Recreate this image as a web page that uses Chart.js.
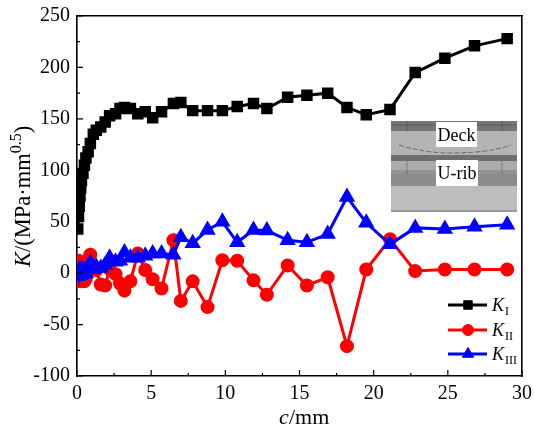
<!DOCTYPE html>
<html>
<head>
<meta charset="utf-8">
<style>
  html, body { margin: 0; padding: 0; background: #fff; }
  #wrap { width: 534px; height: 432px; }
</style>
<script src="https://cdn.jsdelivr.net/npm/chart.js@4"></script>
</head>
<body>
<div id="wrap"><canvas id="chart" width="534" height="432"></canvas></div>
<script>
// crack length c in mm, shared by the three series
var crackLength = [0.05, 0.1, 0.15, 0.2, 0.25, 0.3, 0.4, 0.5, 0.6, 0.75,
  0.9, 1.1, 1.3, 1.6, 1.9, 2.2, 2.6, 2.9, 3.2, 3.6,
  4.1, 4.6, 5.1, 5.7, 6.5, 7.0, 7.8, 8.8, 9.8, 10.8,
  11.9, 12.8, 14.2, 15.5, 16.9, 18.2, 19.5, 21.1, 22.8, 24.8, 26.8, 29];
var kI = [43, 55, 65, 75, 83, 90, 97, 105, 112, 118,
  126, 135, 139, 142, 147, 153, 155, 160, 161, 160,
  155, 157, 151, 157, 165, 166, 158, 158, 158, 162,
  165, 160, 171, 173, 175, 161, 154, 159, 195, 209, 221, 228];
var kII = [5, 12, -3, 0, -8, 3, 10, -8, -5, 4,
  18, 6, 3, -11, -12, 4, -1, -10, -17, -8,
  19, 3, -6, -15, 32, -27, -8, -33, 12.5, 12,
  -7, -21, 7.5, -12, -4, -71, 3.5, 33, 2, 3.5, 3.5, 3.5];
var kIII = [-3, 0, 3, -2, 1, 4, -1, 3, 0, 5,
  10, 4, 6, 5, 8, 15, 11, 12, 20, 15,
  15, 17, 19, 19, 18, 35, 29, 42, 50, 30,
  42, 41.5, 32, 30, 38, 74, 49, 28, 44, 43, 45, 47];
var seriesSubs = ['I', 'II', 'III'];
var xMajorTicks = [0, 5, 10, 15, 20, 25, 30];
var yMajorTicks = [-100, -50, 0, 50, 100, 150, 200, 250];

var serif = '"Liberation Serif", "Times New Roman", serif';

function points(values) {
  return values.map(function(v, i) { return { x: crackLength[i], y: v }; });
}

// stops the axes pushing the plot in to make room for their end labels
function noPadding(s) {
  s.paddingLeft = 0;
  s.paddingRight = 0;
  s.paddingTop = 0;
  s.paddingBottom = 0;
}

// inward ticks on the left and bottom, short ones between the labels
function drawTicks(ctx, chart) {
  var a = chart.chartArea;
  ctx.strokeStyle = '#000';
  ctx.lineWidth = 1.2;
  ctx.beginPath();
  chart.scales.x.ticks.forEach(function(t) {
    var px = chart.scales.x.getPixelForValue(t.value);
    var len = xMajorTicks.indexOf(t.value) >= 0 ? 6 : 3;
    ctx.moveTo(px, a.bottom);
    ctx.lineTo(px, a.bottom - len);
  });
  chart.scales.y.ticks.forEach(function(t) {
    var py = chart.scales.y.getPixelForValue(t.value);
    var len = yMajorTicks.indexOf(t.value) >= 0 ? 6 : 3;
    ctx.moveTo(a.left, py);
    ctx.lineTo(a.left + len, py);
  });
  ctx.stroke();
}

function drawTitles(ctx, chart) {
  ctx.fillStyle = '#000';
  ctx.textBaseline = 'alphabetic';
  ctx.textAlign = 'left';

  // x title
  ctx.font = 'italic 22px ' + serif;
  ctx.fillText('c', 279, 424);
  ctx.font = '22px ' + serif;
  ctx.fillText('/mm', 289, 424);

  // y title
  ctx.save();
  ctx.translate(30, 267);
  ctx.rotate(-Math.PI / 2);
  ctx.font = 'italic 22.5px ' + serif;
  ctx.fillText('K', 0, 0);
  var w = ctx.measureText('K').width;
  ctx.font = '22.5px ' + serif;
  ctx.fillText('/(MPa·mm', w, 0);
  w += ctx.measureText('/(MPa·mm').width;
  ctx.font = '16px ' + serif;
  ctx.fillText('0.5', w, -9);
  w += ctx.measureText('0.5').width;
  ctx.font = '22.5px ' + serif;
  ctx.fillText(')', w, 0);
  ctx.restore();
}

function drawLegend(ctx, chart) {
  var rows = [305, 330, 354];
  chart.data.datasets.forEach(function(ds, i) {
    var y = rows[i];
    ctx.strokeStyle = ds.borderColor;
    ctx.lineWidth = 3;
    ctx.beginPath();
    ctx.moveTo(448, y);
    ctx.lineTo(487, y);
    ctx.stroke();
    ctx.fillStyle = ds.backgroundColor;
    ctx.lineWidth = 1;
    Chart.helpers.drawPoint(ctx, {
      pointStyle: ds.pointStyle, radius: ds.pointRadius, rotation: 0, borderWidth: 1
    }, 468, y);
    ctx.fillStyle = '#000';
    ctx.textAlign = 'left';
    ctx.textBaseline = 'alphabetic';
    ctx.font = 'italic 18px ' + serif;
    ctx.fillText('K', 492, y + 6);
    ctx.font = '12px ' + serif;
    ctx.fillText(seriesSubs[i], 505, y + 10);
  });
}

// the small FE model picture in the plot
function drawInset(ctx) {
  function band(color, y, h) {
    ctx.fillStyle = color;
    ctx.fillRect(391, y, 126, h);
  }
  band('#b4b4b4', 121, 91);
  band('#757575', 121, 10);
  band('#6e6e6e', 155, 6);
  band('#ababab', 161, 13);
  band('#8c8c8c', 174, 12);
  band('#bdbdbd', 186, 24);
  band('#999999', 210, 2);

  ctx.strokeStyle = 'rgba(70,70,70,0.6)';
  ctx.lineWidth = 0.8;
  ctx.beginPath();
  [125, 171, 173].forEach(function(y) {
    ctx.moveTo(391, y);
    ctx.lineTo(517, y);
  });
  [407, 502].forEach(function(x) {
    ctx.moveTo(x, 121);
    ctx.lineTo(x, 131);
    ctx.moveTo(x, 161);
    ctx.lineTo(x, 174);
  });
  ctx.stroke();

  // crack front
  ctx.strokeStyle = '#555';
  ctx.setLineDash([5, 2]);
  ctx.beginPath();
  ctx.moveTo(399, 145);
  ctx.quadraticCurveTo(425, 153, 450, 153);
  ctx.quadraticCurveTo(490, 153, 511, 145);
  ctx.stroke();
  ctx.setLineDash([]);

  ctx.fillStyle = '#fff';
  ctx.fillRect(436, 122, 41, 25);
  ctx.fillRect(436, 160, 42, 26);
  ctx.fillStyle = '#000';
  ctx.textAlign = 'center';
  ctx.textBaseline = 'alphabetic';
  ctx.font = '18px ' + serif;
  ctx.fillText('Deck', 456.5, 141);
  ctx.fillText('U-rib', 457, 179);
}

var extras = {
  id: 'extras',
  beforeDatasetsDraw: function(chart) {
    var ctx = chart.ctx;
    ctx.save();
    drawInset(ctx);
    ctx.restore();
  },
  afterDraw: function(chart) {
    var ctx = chart.ctx;
    ctx.save();
    drawTicks(ctx, chart);
    drawLegend(ctx, chart);
    drawTitles(ctx, chart);
    ctx.restore();
  }
};

var boxBorder = { color: '#000', width: 1.6 };

new Chart(document.getElementById('chart'), {
  type: 'line',
  plugins: [extras],
  data: {
    datasets: [
      { data: points(kI), borderColor: '#000', backgroundColor: '#000', pointStyle: 'rect',
        pointRadius: 6, borderWidth: 3, order: 3 },
      { data: points(kII), borderColor: '#ff0000', backgroundColor: '#ff0000', pointStyle: 'circle',
        pointRadius: 5.5, borderWidth: 3, order: 2 },
      { data: points(kIII), borderColor: '#0000ff', backgroundColor: '#0000ff', pointStyle: 'triangle',
        pointRadius: 6.5, borderWidth: 3, order: 1 }
    ]
  },
  options: {
    responsive: false,
    animation: false,
    events: [],
    layout: { padding: { top: 16, right: 12 } },
    elements: { line: { tension: 0 }, point: { borderWidth: 1 } },
    plugins: { legend: { display: false }, tooltip: { enabled: false } },
    scales: {
      x: {
        type: 'linear', min: 0, max: 30,
        afterFit: function(s) { s.height = 56; noPadding(s); },
        afterBuildTicks: function(s) {
          var list = [];
          xMajorTicks.forEach(function(v, i) {
            list.push({ value: v });
            if (i < xMajorTicks.length - 1) list.push({ value: v + 2.5 });
          });
          s.ticks = list;
        },
        grid: { display: false, drawTicks: false },
        border: boxBorder,
        ticks: {
          autoSkip: false, maxRotation: 0, padding: 6, color: '#000',
          font: { family: serif, size: 20 },
          callback: function(v) { return xMajorTicks.indexOf(v) >= 0 ? String(v) : ''; }
        }
      },
      y: {
        min: -100, max: 250,
        afterFit: function(s) { s.width = 77; noPadding(s); },
        afterBuildTicks: function(s) {
          var list = [];
          yMajorTicks.forEach(function(v, i) {
            list.push({ value: v });
            if (i < yMajorTicks.length - 1) list.push({ value: v + 25 });
          });
          s.ticks = list;
        },
        grid: { display: false, drawTicks: false },
        border: boxBorder,
        ticks: {
          autoSkip: false, padding: 7, color: '#000',
          font: { family: serif, size: 20 },
          callback: function(v) { return yMajorTicks.indexOf(v) >= 0 ? String(v) : ''; }
        }
      },
      top: {
        type: 'linear', position: 'top', display: true,
        afterFit: function(s) { s.height = 0; noPadding(s); },
        grid: { display: false, drawTicks: false },
        border: boxBorder,
        ticks: { display: false }
      },
      right: {
        type: 'linear', position: 'right', display: true,
        afterFit: function(s) { s.width = 0; noPadding(s); },
        grid: { display: false, drawTicks: false },
        border: boxBorder,
        ticks: { display: false }
      }
    }
  }
});
</script>
</body>
</html>
